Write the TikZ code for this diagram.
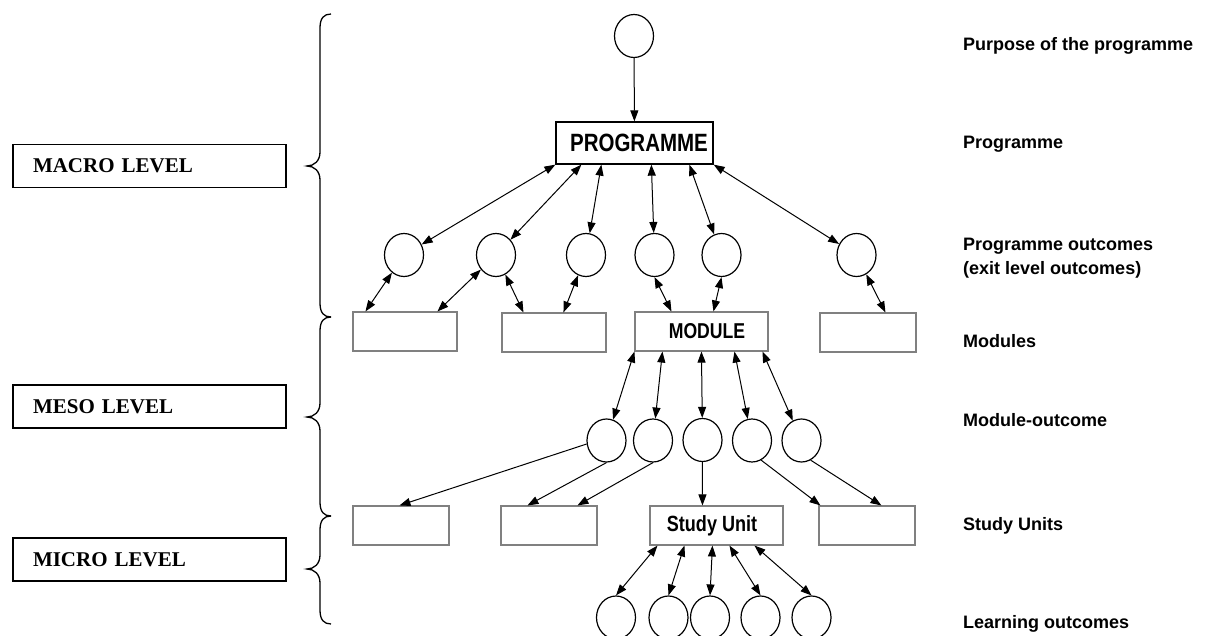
\documentclass[tikz,border=0pt]{standalone}
\usepackage{fontspec}
\setmainfont{Liberation Serif}
\newfontfamily\labelsans{Liberation Sans}
\newfontfamily\narrowsans[FakeStretch=0.82]{Liberation Sans}
\usetikzlibrary{arrows.meta,shapes.geometric}

\begin{document}
\begin{tikzpicture}[x=1pt,y=-1pt,
  outcome/.style={draw, line width=1.2pt, ellipse, minimum width=39pt, minimum height=43pt, inner sep=0pt},
  unitbox/.style={draw=black!50, line width=1.1pt, rectangle, inner sep=0pt, minimum height=39pt},
  mainbox/.style={draw, line width=1.3pt, rectangle, inner sep=0pt},
  levelbox/.style={draw, line width=1.4pt, rectangle, text width=233pt, inner xsep=20pt, inner ysep=0pt,
    minimum height=43pt, align=left, font=\bfseries\fontsize{21}{24}\selectfont},
  rowlabel/.style={font=\labelsans\bfseries\fontsize{18}{22}\selectfont, anchor=base west, inner sep=0pt},
  link/.style={line width=1pt, -{Triangle[length=11pt,width=8pt]}},
  dlink/.style={line width=1pt, {Triangle[length=11pt,width=8pt]}-{Triangle[length=11pt,width=8pt]}},
  brace/.style={line width=1.3pt}
]
\clip (0,0) rectangle (1206,636);

% level boxes
\node[levelbox] (macro) at (149.5,166) {MACRO LEVEL};
\node[levelbox] (meso) at (149.5,406.5) {MESO LEVEL};
\node[levelbox] (micro) at (149.5,559.5) {MICRO LEVEL};

% braces
\draw[brace] (331,14) .. controls (324,14) and (320,18) .. (320,28) -- (320,152)
  .. controls (320,161) and (314,166) .. (307,166)
  .. controls (314,166) and (320,171) .. (320,180) -- (320,303)
  .. controls (320,313) and (324,317) .. (331,317);
\draw[brace] (331,317) .. controls (324,317) and (320,321) .. (320,331) -- (320,403)
  .. controls (320,412) and (314,417) .. (307,417)
  .. controls (314,417) and (320,422) .. (320,431) -- (320,502)
  .. controls (320,512) and (324,516) .. (331,516);
\draw[brace] (331,516) .. controls (324,516) and (320,520) .. (320,530) -- (320,555)
  .. controls (320,564) and (314,569) .. (307,569)
  .. controls (314,569) and (320,574) .. (320,583) -- (320,610)
  .. controls (320,620) and (324,624) .. (331,624);

% purpose and programme
\node[outcome] (purpose) at (634,36) {};
\node[mainbox, minimum width=157pt, minimum height=42pt,
  font=\narrowsans\bfseries\fontsize{25}{28}\selectfont] (prog) at (634.5,143) {\hspace*{9pt}PROGRAMME};

% programme outcomes
\node[outcome] (po1) at (404,255) {};
\node[outcome] (po2) at (496,255) {};
\node[outcome] (po3) at (586,255) {};
\node[outcome] (po4) at (654.5,255) {};
\node[outcome] (po5) at (721.5,255) {};
\node[outcome] (po6) at (856.5,255) {};

% modules
\node[unitbox, minimum width=104pt] (mb1) at (405,331.5) {};
\node[unitbox, minimum width=104pt] (mb2) at (554,332.5) {};
\node[unitbox, minimum width=133pt, font=\narrowsans\bfseries\fontsize{21.5}{24}\selectfont]
  (module) at (701.5,331.5) {\hspace*{11pt}MODULE};
\node[unitbox, minimum width=96pt] (mb4) at (868,332.5) {};

% module outcomes
\node[outcome] (mo1) at (606.5,440.5) {};
\node[outcome] (mo2) at (653,440.5) {};
\node[outcome] (mo3) at (702.5,440) {};
\node[outcome] (mo4) at (752,440.5) {};
\node[outcome] (mo5) at (801.5,440.5) {};

% study units
\node[unitbox, minimum width=96pt] (sb1) at (401,525.5) {};
\node[unitbox, minimum width=96pt] (sb2) at (549,525.5) {};
\node[unitbox, minimum width=133pt, font=\narrowsans\bfseries\fontsize{22}{24}\selectfont]
  (su) at (716.5,525.5) {\hspace*{-9pt}Study Unit};
\node[unitbox, minimum width=96pt] (sb4) at (867,525.5) {};

% learning outcomes
\node[outcome] (lo1) at (616,617.5) {};
\node[outcome] (lo2) at (668.5,617.5) {};
\node[outcome] (lo3) at (710,617.5) {};
\node[outcome] (lo4) at (760.5,617.5) {};
\node[outcome] (lo5) at (811.5,617.5) {};

% connectors: purpose -> programme -> programme outcomes
\draw[link] (purpose) -- (prog);
\draw[dlink] (prog.south west) -- (po1);
\draw[dlink] ([xshift=26pt]prog.south west) -- (po2);
\draw[dlink] ([xshift=46pt]prog.south west) -- (po3);
\draw[dlink] ([xshift=96pt]prog.south west) -- (po4);
\draw[dlink] ([xshift=134pt]prog.south west) -- (po5);
\draw[dlink] (prog.south east) -- (po6);

% programme outcomes <-> modules
\draw[dlink] (po1) -- ([xshift=13pt]mb1.north west);
\draw[dlink] (po2) -- ([xshift=85pt]mb1.north west);
\draw[dlink] (po2) -- ([xshift=22pt]mb2.north west);
\draw[dlink] (po3) -- ([xshift=62pt]mb2.north west);
\draw[dlink] (po4.south) -- ([xshift=37pt]module.north west);
\draw[dlink] (po5.south) -- ([xshift=79pt]module.north west);
\draw[dlink] (po6) -- ([xshift=66pt]mb4.north west);

% module <-> module outcomes
\draw[dlink] (module.south west) -- (mo1);
\draw[dlink] ([xshift=28pt]module.south west) -- (mo2);
\draw[dlink] ([xshift=67pt]module.south west) -- (mo3);
\draw[dlink] ([xshift=100pt]module.south west) -- (mo4);
\draw[dlink] ([xshift=128pt]module.south west) -- (mo5);

% module outcomes -> study units
\draw[link] (mo1.190) -- ([xshift=47pt]sb1.north west);
\draw[link] (mo1.south) -- ([xshift=27pt]sb2.north west);
\draw[link] (mo2.south) -- ([xshift=77pt]sb2.north west);
\draw[link] (mo3) -- ([xshift=53pt]su.north west);
\draw[link] (mo4.-65) -- ([xshift=2pt]sb4.north west);
\draw[link] (mo5.-65) -- ([xshift=63pt]sb4.north west);

% study unit <-> learning outcomes
\draw[dlink] ([xshift=8pt]su.south west) -- (lo1.north);
\draw[dlink] ([xshift=35pt]su.south west) -- (lo2.north);
\draw[dlink] ([xshift=63pt]su.south west) -- (lo3.north);
\draw[dlink] ([xshift=80pt]su.south west) -- (lo4.north);
\draw[dlink] ([xshift=105pt]su.south west) -- (lo5.north);

% row labels
\node[rowlabel] (lpurpose) at (963,50.5) {Purpose of the programme};
\node[rowlabel] (lprog) at (963,148.5) {Programme};
\node[rowlabel] (lpo) at (963,250.5) {Programme outcomes};
\node[rowlabel] (lexit) at (963,274.5) {(exit level outcomes)};
\node[rowlabel] (lmod) at (963,347.5) {Modules};
\node[rowlabel] (lmo) at (963,426.5) {Module-outcome};
\node[rowlabel] (lsu) at (963,530.5) {Study Units};
\node[rowlabel] (llo) at (963,628.5) {Learning outcomes};
\end{tikzpicture}
\end{document}
